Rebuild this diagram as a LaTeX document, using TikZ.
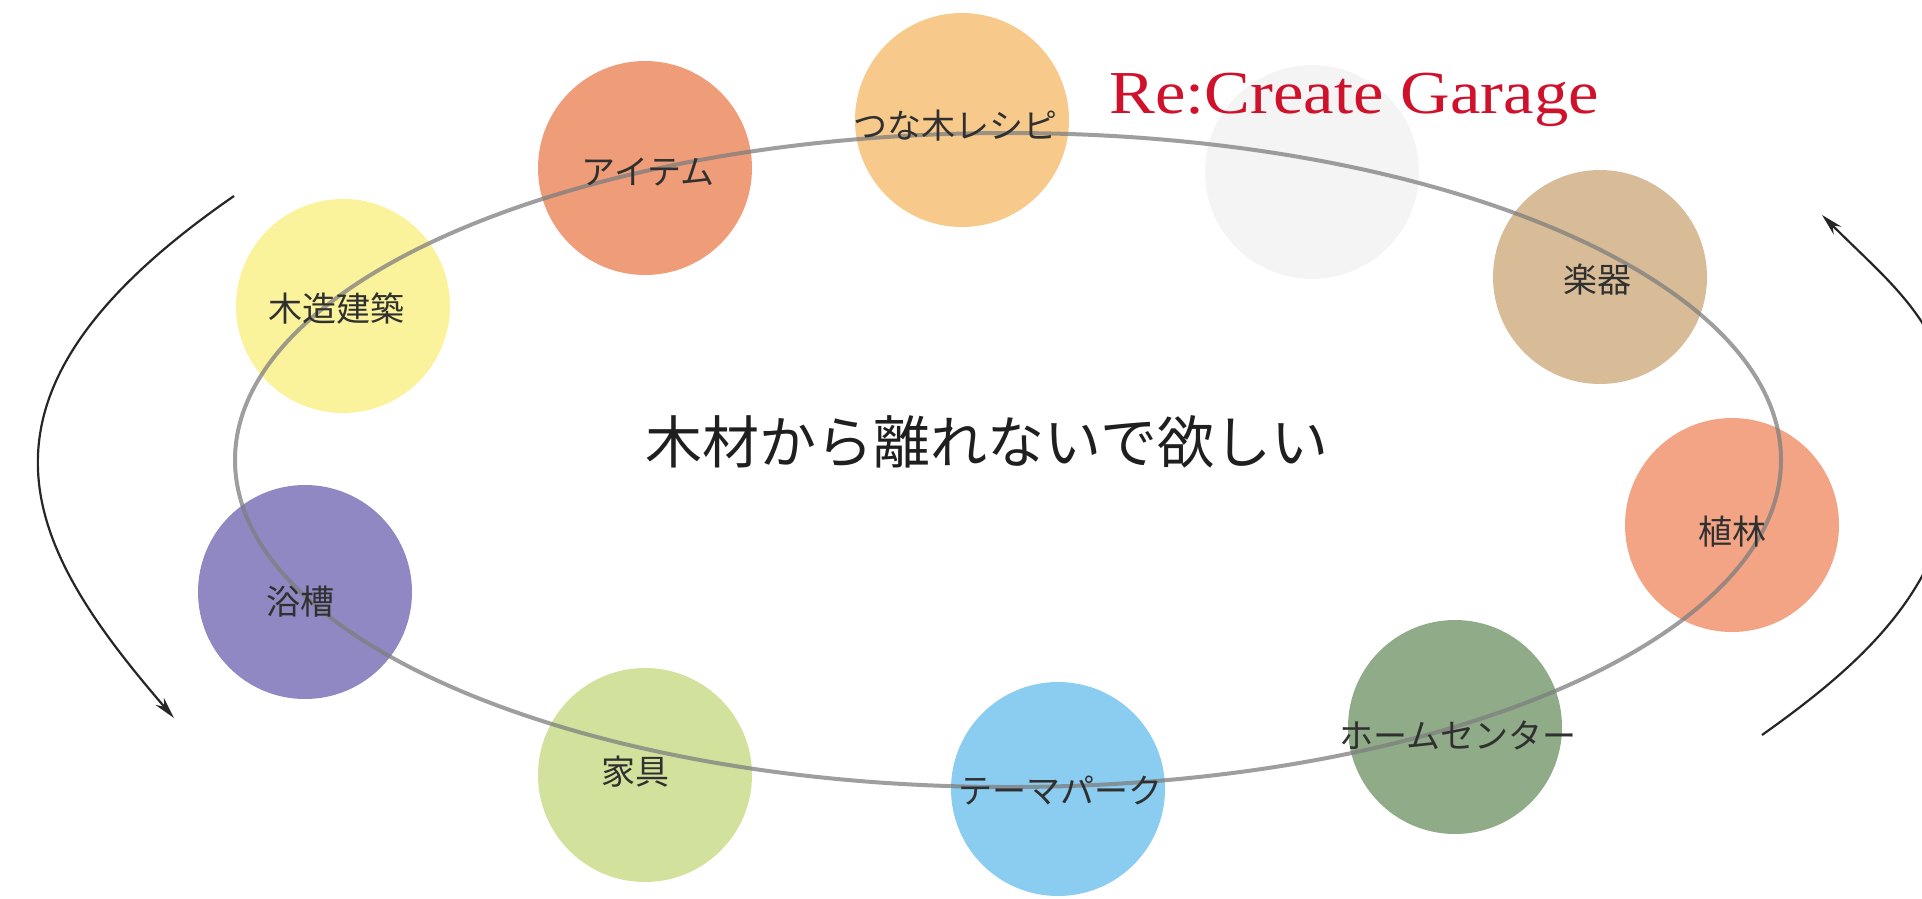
\documentclass[tikz,border=0pt]{standalone}
\usepackage{fontspec}
\usetikzlibrary{arrows.meta}
\newfontfamily\cjk{Noto Sans CJK JP}
\newfontfamily\rcserif{Liberation Serif}
\definecolor{cTsuna}{HTML}{F7CA8C}
\definecolor{cItem}{HTML}{EF9C79}
\definecolor{cMoku}{HTML}{FBF39C}
\definecolor{cYoku}{HTML}{9088C2}
\definecolor{cKagu}{HTML}{D2E29D}
\definecolor{cTheme}{HTML}{8BCDF1}
\definecolor{cHome}{HTML}{90AB88}
\definecolor{cShoku}{HTML}{F2A484}
\definecolor{cGakki}{HTML}{D7BC97}
\definecolor{cFaint}{HTML}{F4F4F4}
\definecolor{cRing}{HTML}{7E7E7E}
\definecolor{cRed}{HTML}{D0112B}
\definecolor{cLabel}{HTML}{303030}
\tikzset{
  bubble/.style={circle, minimum size=214pt, inner sep=0pt, draw=none},
  lbl/.style={inner sep=0pt, text=cLabel, font=\cjk\fontsize{34}{34}\selectfont},
  flow/.style={line width=2.2pt, black!85, -{Stealth[length=22pt,width=11pt]}},
}
\begin{document}
\begin{tikzpicture}[x=1pt,y=-1pt]
\useasboundingbox (0,0) rectangle (1922,898);
\clip (0,0) rectangle (1922,898);
% bubbles
\node[bubble, fill=cFaint]  (faint) at (1312,172) {};
\node[bubble, fill=cTsuna]  (tsuna) at (962,120) {};
\node[bubble, fill=cItem]   (item)  at (645,168) {};
\node[bubble, fill=cMoku]   (moku)  at (343,306) {};
\node[bubble, fill=cYoku]   (yoku)  at (305,592) {};
\node[bubble, fill=cKagu]   (kagu)  at (645,775) {};
\node[bubble, fill=cTheme]  (theme) at (1058,789) {};
\node[bubble, fill=cHome]   (home)  at (1455,727) {};
\node[bubble, fill=cShoku]  (shoku) at (1732,525) {};
\node[bubble, fill=cGakki]  (gakki) at (1600,277) {};
% ring
\coordinate (ringc) at (1008,460);
\draw[cRing, line width=4pt, opacity=0.75]
  (ringc) ellipse [x radius=773, y radius=327];
% labels
\node[lbl] (tTsuna) at (955,126) {つな木レシピ};
\node[lbl] (tItem)  at (648,172) {アイテム};
\node[lbl] (tMoku)  at (336,309) {木造建築};
\node[lbl] (tYoku)  at (300,602) {浴槽};
\node[lbl] (tKagu)  at (635,772) {家具};
\node[lbl] (tTheme) at (1060,791) {テーマパーク};
\node[lbl] (tHome)  at (1458,735) {ホームセンター};
\node[lbl] (tShoku) at (1732,532) {植林};
\node[lbl] (tGakki) at (1597,280) {楽器};
% centre text
\node[inner sep=0pt, text=black!88, font=\cjk\fontsize{57}{57}\selectfont] (main) at (987,442) {木材から離れないで欲しい};
% title
\node[anchor=base west, inner sep=0pt, text=cRed, xscale=1.125, font=\rcserif\fontsize{61}{61}\selectfont] (title) at (1109,113) {Re:Create Garage};
% arrows
\coordinate (la) at (234,196);
\coordinate (lb) at (174,718);
\draw[flow] (la) .. controls (-57,397) and (25,545) .. (lb);
\coordinate (ra) at (1762,735);
\coordinate (rm) at (1955,445);
\coordinate (rb) at (1822,215);
\draw[flow] (ra) .. controls (1869,659) and (1955,580) .. (rm)
                 .. controls (1955,330) and (1897,290) .. (rb);
\end{tikzpicture}
\end{document}
